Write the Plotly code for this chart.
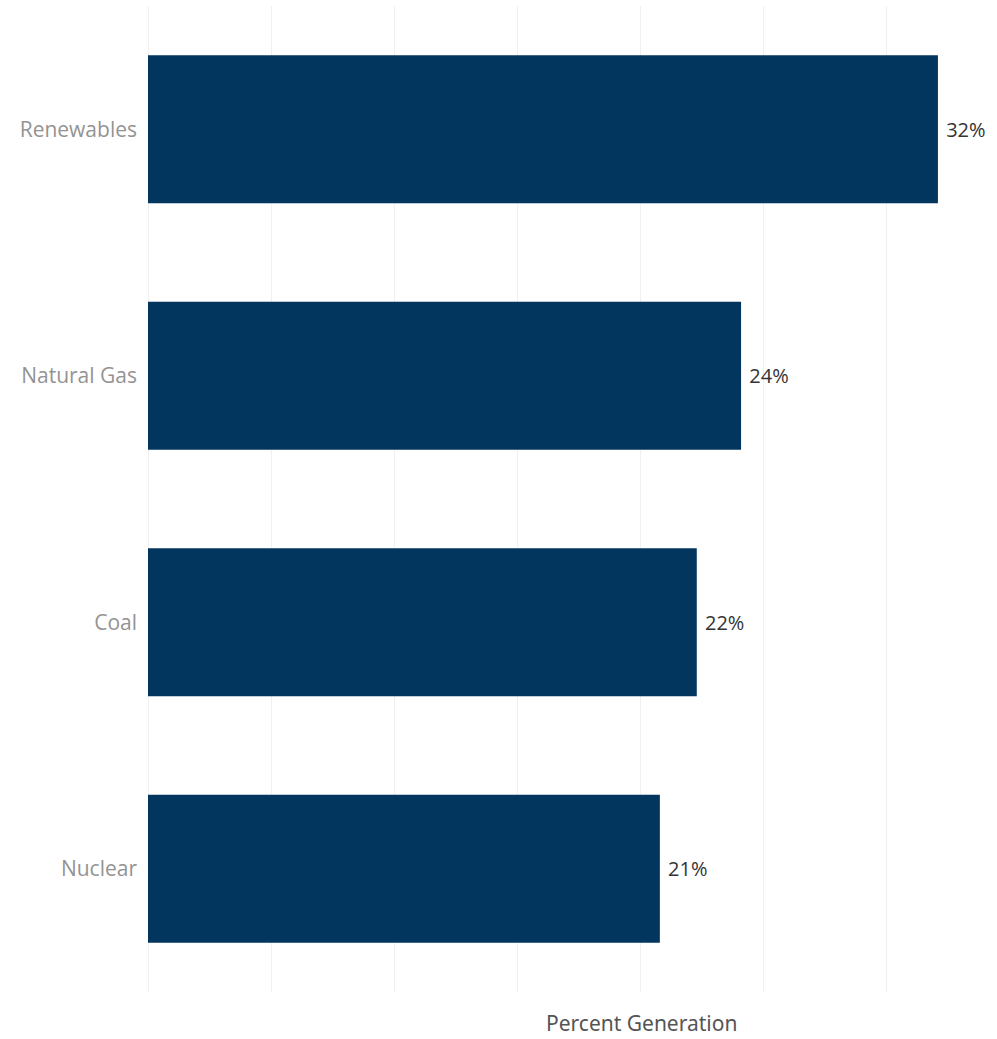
import plotly.graph_objects as go

categories = ["Renewables", "Natural Gas", "Coal", "Nuclear"]
values = [32.1, 24.1, 22.3, 20.8]
labels = ["32%", "24%", "22%", "21%"]
x_ticks = [0, 5, 10, 15, 20, 25, 30]

W, H = 997, 1039
ml, mr, mt, mb = 148, 32, 6, 47

fig = go.Figure(go.Bar(
    y=categories, x=values, orientation="h",
    marker=dict(color="#02365f", line=dict(width=0)),
    text=labels, texttemplate=" %{text}", textposition="outside", cliponaxis=False,
    textfont=dict(family="Open Sans, sans-serif", size=20, color="#333333"),
    width=0.6,
))

fig.update_layout(
    width=W, height=H,
    margin=dict(l=ml, r=mr, t=mt, b=mb),
    plot_bgcolor="white", paper_bgcolor="white",
    showlegend=False,
    xaxis=dict(range=[0, 33.2], tickvals=x_ticks, showticklabels=False,
               showgrid=True, gridcolor="#f0f0f0", gridwidth=1,
               zeroline=True, zerolinecolor="#f0f0f0", zerolinewidth=1,
               showline=False, fixedrange=True),
    yaxis=dict(categoryorder="array", categoryarray=categories[::-1],
               showgrid=False, showline=False, ticks="", ticklabelstandoff=10,
               tickfont=dict(family="Open Sans, sans-serif", size=21, color="#939393")),
    annotations=[dict(text="Percent Generation", xref="paper", yref="paper",
                      x=(641 - ml) / (W - ml - mr), y=-(1023 - (H - mb)) / (H - mt - mb),
                      xanchor="center", yanchor="middle", showarrow=False,
                      font=dict(family="Noto Sans, sans-serif", size=21, color="#555555"))],
)

fig.write_html("out.html", config={"displayModeBar": False},
               post_script="document.body.style.margin='0';")
